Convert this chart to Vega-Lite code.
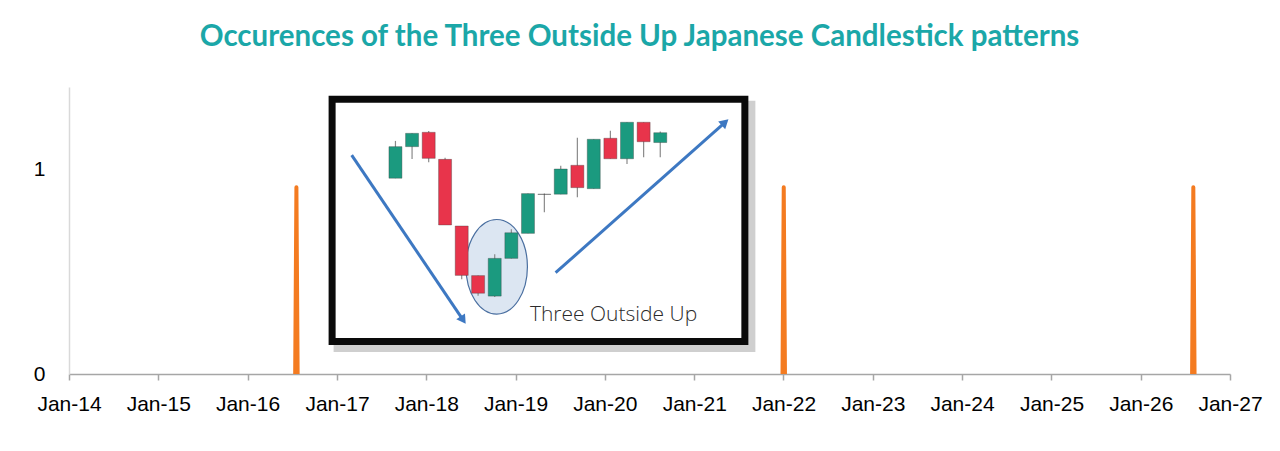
{
  "$schema": "https://vega.github.io/schema/vega-lite/v6.json",
  "width": 1161,
  "height": 287,
  "autosize": "none",
  "padding": {"left": 69, "top": 87, "right": 50, "bottom": 77},
  "background": "white",
  "title": {
    "text": "Occurences of the Three Outside Up Japanese Candlestick patterns",
    "font": "Lato",
    "fontSize": 29.5,
    "fontWeight": "bold",
    "color": "#1BA7A8",
    "anchor": "middle",
    "baseline": "alphabetic",
    "offset": 12,
    "dx": -10
  },
  "datasets": {
    "spikes": [
      {"spike": "2016", "date": "2016-07-14", "value": 0},
      {"spike": "2016", "date": "2016-07-19", "value": 0.911},
      {"spike": "2016", "date": "2016-07-24", "value": 0},
      {"spike": "2022", "date": "2021-12-28", "value": 0},
      {"spike": "2022", "date": "2022-01-02", "value": 0.911},
      {"spike": "2022", "date": "2022-01-07", "value": 0},
      {"spike": "2026", "date": "2026-07-30", "value": 0},
      {"spike": "2026", "date": "2026-08-04", "value": 0.911},
      {"spike": "2026", "date": "2026-08-09", "value": 0}
    ],
    "box": [
      {"date": "2016-12-12", "date2": "2021-07-27", "value": 1.34, "value2": 0.158}
    ],
    "candles": [
      {"date": "2017-08-28", "open": 0.955, "close": 1.109, "high": 1.137, "low": 0.955, "dir": "up"},
      {"date": "2017-11-04", "open": 1.109, "close": 1.174, "high": 1.174, "low": 1.049, "dir": "up"},
      {"date": "2018-01-11", "open": 1.179, "close": 1.052, "high": 1.185, "low": 1.033, "dir": "down"},
      {"date": "2018-03-19", "open": 1.047, "close": 0.727, "high": 1.055, "low": 0.727, "dir": "down"},
      {"date": "2018-05-26", "open": 0.722, "close": 0.481, "high": 0.722, "low": 0.462, "dir": "down"},
      {"date": "2018-08-01", "open": 0.48, "close": 0.394, "high": 0.48, "low": 0.382, "dir": "down"},
      {"date": "2018-10-08", "open": 0.38, "close": 0.564, "high": 0.584, "low": 0.376, "dir": "up"},
      {"date": "2018-12-15", "open": 0.564, "close": 0.689, "high": 0.706, "low": 0.564, "dir": "up"},
      {"date": "2019-02-21", "open": 0.686, "close": 0.88, "high": 0.88, "low": 0.686, "dir": "up"},
      {"date": "2019-04-29", "open": 0.877, "close": 0.876, "high": 0.881, "low": 0.789, "dir": "doji"},
      {"date": "2019-07-05", "open": 0.877, "close": 1.0, "high": 1.016, "low": 0.877, "dir": "up"},
      {"date": "2019-09-11", "open": 1.018, "close": 0.909, "high": 1.153, "low": 0.862, "dir": "down"},
      {"date": "2019-11-17", "open": 0.904, "close": 1.145, "high": 1.145, "low": 0.904, "dir": "up"},
      {"date": "2020-01-24", "open": 1.15, "close": 1.05, "high": 1.187, "low": 1.05, "dir": "down"},
      {"date": "2020-04-01", "open": 1.05, "close": 1.228, "high": 1.228, "low": 1.024, "dir": "up"},
      {"date": "2020-06-08", "open": 1.228, "close": 1.133, "high": 1.228, "low": 1.057, "dir": "down"},
      {"date": "2020-08-15", "open": 1.129, "close": 1.177, "high": 1.183, "low": 1.057, "dir": "up"}
    ],
    "arrows": [
      {"arrow": "down", "date": "2017-03-02", "value": 1.068, "head": false},
      {"arrow": "down", "date": "2018-06-01", "value": 0.263, "head": true},
      {"arrow": "up", "date": "2019-06-14", "value": 0.494, "head": false},
      {"arrow": "up", "date": "2021-05-07", "value": 1.228, "head": true}
    ],
    "notes": [
      {"date": "2018-10-16", "value": 0.523, "label": "Three Outside Up", "labelDate": "2019-03-01", "labelValue": 0.288}
    ]
  },
  "layer": [
    {
      "data": {"name": "box"},
      "mark": {"type": "rect", "fill": "#777777", "stroke": "#777777", "strokeWidth": 9, "opacity": 0.35, "xOffset": 6, "x2Offset": 6, "yOffset": 6, "y2Offset": 6},
      "encoding": {
        "x": {"field": "date", "type": "temporal", "title": null, "scale": {"type": "utc", "padding": 0, "domain": [{"year": 2014, "month": 1, "date": 1, "utc": true}, {"year": 2027, "month": 1, "date": 1, "utc": true}]}},
        "x2": {"field": "date2"},
        "y": {"field": "value", "type": "quantitative", "title": null, "scale": {"domain": [0, 1.4], "padding": 0}},
        "y2": {"field": "value2"}
      }
    },
    {
      "data": {"name": "box"},
      "mark": {"type": "rect", "fill": "white", "stroke": "#0a0a0a", "strokeWidth": 7},
      "encoding": {
        "x": {"field": "date", "type": "temporal", "title": null},
        "x2": {"field": "date2"},
        "y": {"field": "value", "type": "quantitative", "title": null},
        "y2": {"field": "value2"}
      }
    },
    {
      "data": {"name": "notes"},
      "mark": {"type": "point", "filled": true, "shape": "M -0.65 0 A 0.65 1 0 1 1 0.65 0 A 0.65 1 0 1 1 -0.65 0 Z", "size": 8950, "fill": "#DCE6F2", "stroke": "#4A6FA0", "strokeWidth": 1.2, "opacity": 1},
      "encoding": {
        "x": {"field": "date", "type": "temporal", "title": null},
        "y": {"field": "value", "type": "quantitative", "title": null}
      }
    },
    {
      "data": {"name": "candles"},
      "mark": {"type": "rule", "color": "#8a8a8a", "strokeWidth": 1.2},
      "encoding": {
        "x": {"field": "date", "type": "temporal", "title": null},
        "y": {"field": "low", "type": "quantitative", "title": null},
        "y2": {"field": "high"}
      }
    },
    {
      "data": {"name": "candles"},
      "mark": {"type": "bar", "size": 13, "stroke": "#3d3d3d", "strokeWidth": 0.6, "strokeOpacity": 0.6},
      "encoding": {
        "x": {"field": "date", "type": "temporal", "title": null},
        "y": {"field": "open", "type": "quantitative", "title": null},
        "y2": {"field": "close"},
        "color": {"field": "dir", "type": "nominal", "legend": null, "scale": {"domain": ["up", "down", "doji"], "range": ["#1B9A7F", "#E8344B", "#444444"]}}
      }
    },
    {
      "data": {"name": "arrows"},
      "mark": {"type": "line", "color": "#3D78C2", "strokeWidth": 3},
      "encoding": {
        "x": {"field": "date", "type": "temporal", "title": null},
        "y": {"field": "value", "type": "quantitative", "title": null},
        "detail": {"field": "arrow"}
      }
    },
    {
      "data": {"name": "arrows"},
      "transform": [{"filter": "datum.head && datum.arrow == 'down'"}],
      "mark": {"type": "point", "shape": "triangle-up", "filled": true, "color": "#3D78C2", "size": 110, "angle": 146, "opacity": 1},
      "encoding": {
        "x": {"field": "date", "type": "temporal", "title": null},
        "y": {"field": "value", "type": "quantitative", "title": null}
      }
    },
    {
      "data": {"name": "arrows"},
      "transform": [{"filter": "datum.head && datum.arrow == 'up'"}],
      "mark": {"type": "point", "shape": "triangle-up", "filled": true, "color": "#3D78C2", "size": 110, "angle": 48, "opacity": 1},
      "encoding": {
        "x": {"field": "date", "type": "temporal", "title": null},
        "y": {"field": "value", "type": "quantitative", "title": null}
      }
    },
    {
      "data": {"name": "notes"},
      "mark": {"type": "text", "align": "left", "baseline": "middle", "font": "Open Sans", "fontWeight": 300, "fontSize": 21, "color": "#2b2b2b"},
      "encoding": {
        "x": {"field": "labelDate", "type": "temporal", "title": null},
        "y": {"field": "labelValue", "type": "quantitative", "title": null},
        "text": {"field": "label"}
      }
    },
    {
      "data": {"name": "spikes"},
      "mark": {"type": "line", "color": "#F47B20", "strokeWidth": 4, "strokeJoin": "round"},
      "encoding": {
        "x": {
          "field": "date", "type": "temporal", "title": null,
          "axis": {"format": "%b-%y", "tickCount": {"interval": "year", "step": 1}, "labelFlush": false, "labelOverlap": false}
        },
        "y": {
          "field": "value", "type": "quantitative", "title": null,
          "axis": {"values": [0, 1], "format": "d"}
        },
        "detail": {"field": "spike"}
      }
    }
  ],
  "config": {
    "view": {"stroke": null},
    "axisX": {
      "domainColor": "#A6A6A6", "domainWidth": 1.5, "tickColor": "#A6A6A6", "tickWidth": 1.5, "tickSize": 6,
      "grid": false, "labelFont": "Liberation Sans", "labelFontSize": 21, "labelColor": "#000000", "labelPadding": 13
    },
    "axisY": {
      "domainColor": "#D9D9D9", "domainWidth": 1.5, "ticks": false, "tickSize": 0,
      "grid": false, "labelFont": "Liberation Sans", "labelFontSize": 21, "labelColor": "#000000", "labelPadding": 24
    }
  }
}
